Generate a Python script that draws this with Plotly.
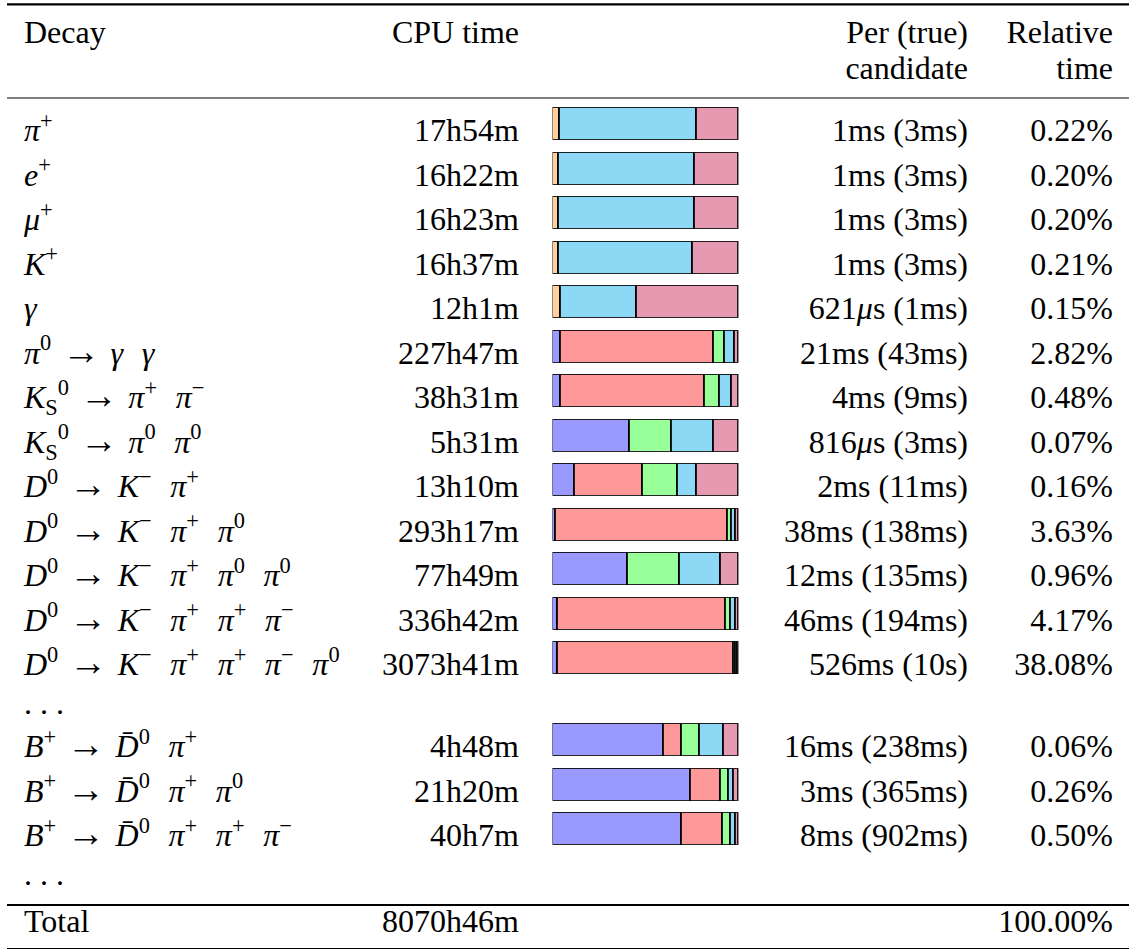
import plotly.graph_objects as go

# ---------------- text helpers (spacing only) ----------------
SEP = "\u2002\u200a"                      # gap between particles
ARR = " \u200a<span style='font-size:38px'>→</span>\u200a "


def p(sym, sup="", sub=""):
    s = "<i>" + sym + "</i>"
    if sub:
        s += "<sub>" + sub + "</sub>"
    if sup:
        s += "<sup>" + sup + "</sup>"
    return s


def decay(mother, daughters):
    return mother + ARR + SEP.join(daughters)


# ---------------- data ----------------
decays = [
    p("π", "+"),
    p("e", "+"),
    p("μ", "+"),
    p("K", "+"),
    p("γ"),
    decay(p("π", "0"), [p("γ"), p("γ")]),
    decay(p("K", "0", "S"), [p("π", "+"), p("π", "−")]),
    decay(p("K", "0", "S"), [p("π", "0"), p("π", "0")]),
    decay(p("D", "0"), [p("K", "−"), p("π", "+")]),
    decay(p("D", "0"), [p("K", "−"), p("π", "+"), p("π", "0")]),
    decay(p("D", "0"), [p("K", "−"), p("π", "+"), p("π", "0"), p("π", "0")]),
    decay(p("D", "0"), [p("K", "−"), p("π", "+"), p("π", "+"), p("π", "−")]),
    decay(p("D", "0"), [p("K", "−"), p("π", "+"), p("π", "+"), p("π", "−"), p("π", "0")]),
    ". . .",
    decay(p("B", "+"), [p("D̄", "0"), p("π", "+")]),
    decay(p("B", "+"), [p("D̄", "0"), p("π", "+"), p("π", "0")]),
    decay(p("B", "+"), [p("D̄", "0"), p("π", "+"), p("π", "+"), p("π", "−")]),
    ". . .",
]
cpu_time = ["17h54m", "16h22m", "16h23m", "16h37m", "12h1m", "227h47m", "38h31m",
            "5h31m", "13h10m", "293h17m", "77h49m", "336h42m", "3073h41m", "",
            "4h48m", "21h20m", "40h7m", ""]
per_candidate = ["1ms (3ms)", "1ms (3ms)", "1ms (3ms)", "1ms (3ms)", "621<i>μ</i>s (1ms)",
                 "21ms (43ms)", "4ms (9ms)", "816<i>μ</i>s (3ms)", "2ms (11ms)",
                 "38ms (138ms)", "12ms (135ms)", "46ms (194ms)", "526ms (10s)", "",
                 "16ms (238ms)", "3ms (365ms)", "8ms (902ms)", ""]
relative_time = ["0.22%", "0.20%", "0.20%", "0.21%", "0.15%", "2.82%", "0.48%", "0.07%",
                 "0.16%", "3.63%", "0.96%", "4.17%", "38.08%", "", "0.06%", "0.26%",
                 "0.50%", ""]
total_label = "Total"
total_cpu = "8070h46m"
total_rel = "100.00%"

# share of CPU time per module (percent of row), None = module absent
module_names = ["Loading (final state)", "Loading (composite)", "Combiner",
                "Vertex fit", "Matching", "Other"]
mod_load_fs = [3.8, 3.4, 3.4, 3.4, 4.5, None, None, None, None, None, None, None, None, None,
               None, None, None, None]
mod_load_cmp = [None, None, None, None, None, 4.3, 4.3, 41.5, 12.0, 1.8, 40.4, 2.7, 2.7, None,
                59.8, 74.2, 69.4, None]
mod_combiner = [None, None, None, None, None, 82.1, 77.5, None, 36.3, 92.3, None, 90.3, 94.6, None,
                9.7, 16.1, 22.0, None]
mod_vertex = [None, None, None, None, None, 5.9, 7.9, 22.7, 19.1, 2.0, 27.9, 2.5, 1.2, None,
              9.5, 4.1, 4.5, None]
mod_matching = [73.5, 73.2, 73.0, 71.7, 40.8, 5.7, 6.6, 22.4, 9.8, 2.3, 21.8, 2.7, 0.9, None,
                12.9, 2.9, 2.3, None]
mod_other = [22.7, 23.4, 23.6, 24.9, 54.7, 2.0, 3.7, 13.4, 22.8, 1.6, 9.9, 1.8, 0.6, None,
             8.1, 2.7, 1.8, None]
module_values = [mod_load_fs, mod_load_cmp, mod_combiner, mod_vertex, mod_matching, mod_other]
module_colors = ["#FFD09B", "#9999FF", "#FF9999", "#99FF99", "#8CD8F5", "#E59AB2"]

# ---------------- layout constants ----------------
W, H = 1134, 950
FS = 32
FONT = "Liberation Serif, Tinos, Times New Roman, DejaVu Serif, serif"
X_LEFT = 24
X_CPU = 519
X_PER = 968
X_REL = 1113
BAR_X0, BAR_X1 = 552.5, 738.5

baselines = [141 + 44.5 * i for i in range(13)] + [714] + [757 + 44.5 * j for j in range(3)] + [885]
total_base = 932
bar_centers = [b - 17 for b in baselines]
SHIFT = 0.35 * FS - 3.5  # middle text: baseline = y + 0.35em

fig = go.Figure()

for name, vals, col in zip(module_names, module_values, module_colors):
    fig.add_trace(go.Bar(
        orientation="h", name=name, x=vals, y=bar_centers, width=32,
        xaxis="x2", yaxis="y",
        marker=dict(color=col, line=dict(color="rgba(0,0,0,0.85)", width=1.1)),
        hoverinfo="skip", showlegend=False,
    ))


def add_text(xs, ys, texts, pos):
    fig.add_trace(go.Scatter(
        x=xs, y=[y - SHIFT for y in ys], text=texts, mode="text",
        textposition=pos, textfont=dict(family=FONT, size=FS, color="black"),
        hoverinfo="skip", showlegend=False, cliponaxis=False,
    ))


# header
add_text([X_LEFT], [43], ["Decay"], "middle right")
add_text([X_CPU], [43], ["CPU time"], "middle left")
add_text([647], [43], ["By module"], "middle center")
add_text([X_PER, X_PER], [43, 79], ["Per (true)", "candidate"], "middle left")
add_text([X_REL, X_REL], [43, 79], ["Relative", "time"], "middle left")

# body
add_text([X_LEFT] * len(decays) + [X_LEFT], baselines + [total_base], decays + [total_label], "middle right")
add_text([X_CPU] * len(cpu_time) + [X_CPU], baselines + [total_base], cpu_time + [total_cpu], "middle left")
add_text([X_PER] * len(per_candidate), baselines, per_candidate, "middle left")
add_text([X_REL] * len(relative_time) + [X_REL], baselines + [total_base], relative_time + [total_rel], "middle left")

# rules
rules = [(4.3, 2.2), (98, 1.2), (905, 2.2), (948.5, 1.2)]
shapes = [dict(type="line", xref="x", yref="y", x0=7, x1=1129, y0=y, y1=y,
               line=dict(color="black", width=w)) for y, w in rules]

fig.update_layout(
    width=W, height=H, margin=dict(l=0, r=0, t=0, b=0),
    paper_bgcolor="white", plot_bgcolor="white",
    font=dict(family=FONT, size=FS, color="black"),
    barmode="stack", bargap=0,
    xaxis=dict(range=[0, W], domain=[0, 1], visible=False, fixedrange=True),
    xaxis2=dict(range=[0, 100], domain=[BAR_X0 / W, BAR_X1 / W], anchor="y",
                visible=False, fixedrange=True),
    yaxis=dict(range=[H, 0], domain=[0, 1], visible=False, fixedrange=True),
    shapes=shapes,
)

fig.write_html(
    "out.html",
    config={"displayModeBar": False},
    post_script="document.body.style.margin='0';document.body.style.overflow='hidden';",
)
